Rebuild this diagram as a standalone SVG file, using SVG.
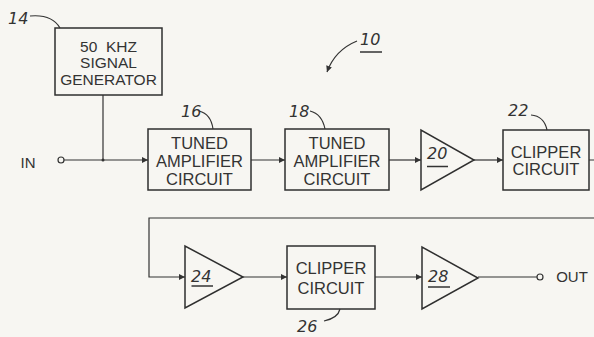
<svg xmlns="http://www.w3.org/2000/svg" width="594" height="337" viewBox="0 0 594 337">
<defs>
<style>
.bx{fill:none;stroke:#2f2f2f;stroke-width:1.5}
.ln{fill:none;stroke:#333;stroke-width:1.2}
.t{font-family:"Liberation Sans",Arial,sans-serif;font-size:16.5px;fill:#333;text-anchor:middle}
.g{font-size:15.5px}
.n{font-family:"DejaVu Sans","Liberation Sans",sans-serif;font-style:italic;font-size:16px;fill:#333}
.u{stroke:#333;stroke-width:1.5}
</style>
<marker id="ah" viewBox="0 0 10 10" refX="10" refY="5" markerWidth="9" markerHeight="6" markerUnits="userSpaceOnUse" orient="auto">
<path d="M0,0 L10,5 L0,10 z" fill="#333"/>
</marker>
</defs>
<rect width="594" height="337" fill="#f7f6f2"/>
<g id="connectors">
<circle cx="61" cy="160" r="3" class="ln"/>
<path class="ln" d="M64,160 H148" marker-end="url(#ah)"/>
<path class="ln" d="M103,95 V160"/>
<circle cx="103" cy="160" r="1.5" fill="#333"/>
<path class="ln" d="M251,160 H285" marker-end="url(#ah)"/>
<path class="ln" d="M389,160 H421" marker-end="url(#ah)"/>
<path class="ln" d="M474,160 H503" marker-end="url(#ah)"/>
<path class="ln" d="M589,160 H600 V218 H149 V277 H185" marker-end="url(#ah)"/>
<path class="ln" d="M243,277 H287" marker-end="url(#ah)"/>
<path class="ln" d="M375,277 H422" marker-end="url(#ah)"/>
<path class="ln" d="M478,277 H537"/>
<circle cx="540" cy="277" r="3" class="ln"/>
<path class="ln" d="M357,41 Q335,50 327,72" marker-end="url(#ah)"/>
</g>
<g id="in"><text class="t" x="28" y="168" style="font-size:15px">IN</text></g>
<g id="out"><text class="t" x="572" y="282" style="font-size:15px">OUT</text></g>
<g id="label10"><text class="n" x="360" y="45">10</text><line class="u" x1="360" y1="52" x2="382" y2="52"/></g>
<g id="n14">
<rect class="bx" x="55" y="28" width="107" height="67"/>
<text class="t g" x="108.5" y="51.5" xml:space="preserve" style="white-space:pre">50  KHZ</text>
<text class="t g" x="108.5" y="67.5">SIGNAL</text>
<text class="t g" x="108.5" y="85">GENERATOR</text>
<text class="n" x="8" y="24">14</text>
<path class="ln" d="M30,16 Q52,14 60,28"/>
</g>
<g id="n16">
<rect class="bx" x="148" y="129" width="103" height="61"/>
<text class="t" x="199.5" y="149">TUNED</text>
<text class="t" x="199.5" y="167">AMPLIFIER</text>
<text class="t" x="199.5" y="184.5">CIRCUIT</text>
<text class="n" x="181" y="117">16</text>
<path class="ln" d="M199,111 Q211,114 213,129"/>
</g>
<g id="n18">
<rect class="bx" x="285" y="129" width="104" height="61"/>
<text class="t" x="337" y="149">TUNED</text>
<text class="t" x="337" y="167">AMPLIFIER</text>
<text class="t" x="337" y="184.5">CIRCUIT</text>
<text class="n" x="289" y="117">18</text>
<path class="ln" d="M310,111 Q322,114 325,129"/>
</g>
<g id="n20">
<path class="bx" d="M421,130 L421,190 L474,160 Z"/>
<text class="n" x="427" y="159">20</text>
<line class="u" x1="427" y1="166.5" x2="448" y2="166.5"/>
</g>
<g id="n22">
<rect class="bx" x="503" y="130" width="86" height="60"/>
<text class="t" x="546" y="157.5">CLIPPER</text>
<text class="t" x="546" y="175">CIRCUIT</text>
<text class="n" x="508" y="116">22</text>
<path class="ln" d="M531,115 Q544,116 547,130"/>
</g>
<g id="n24">
<path class="bx" d="M185,246 L185,308 L243,277 Z"/>
<text class="n" x="191" y="282">24</text>
<line class="u" x1="191.5" y1="286" x2="213" y2="286"/>
</g>
<g id="n26">
<rect class="bx" x="287" y="246" width="88" height="63"/>
<text class="t" x="331" y="274">CLIPPER</text>
<text class="t" x="331" y="294">CIRCUIT</text>
<text class="n" x="297" y="332">26</text>
<path class="ln" d="M324,321 Q338,318 340,309"/>
</g>
<g id="n28">
<path class="bx" d="M422,247 L422,309 L478,278 Z"/>
<text class="n" x="428" y="282">28</text>
<line class="u" x1="428" y1="287" x2="450" y2="287"/>
</g>
</svg>
